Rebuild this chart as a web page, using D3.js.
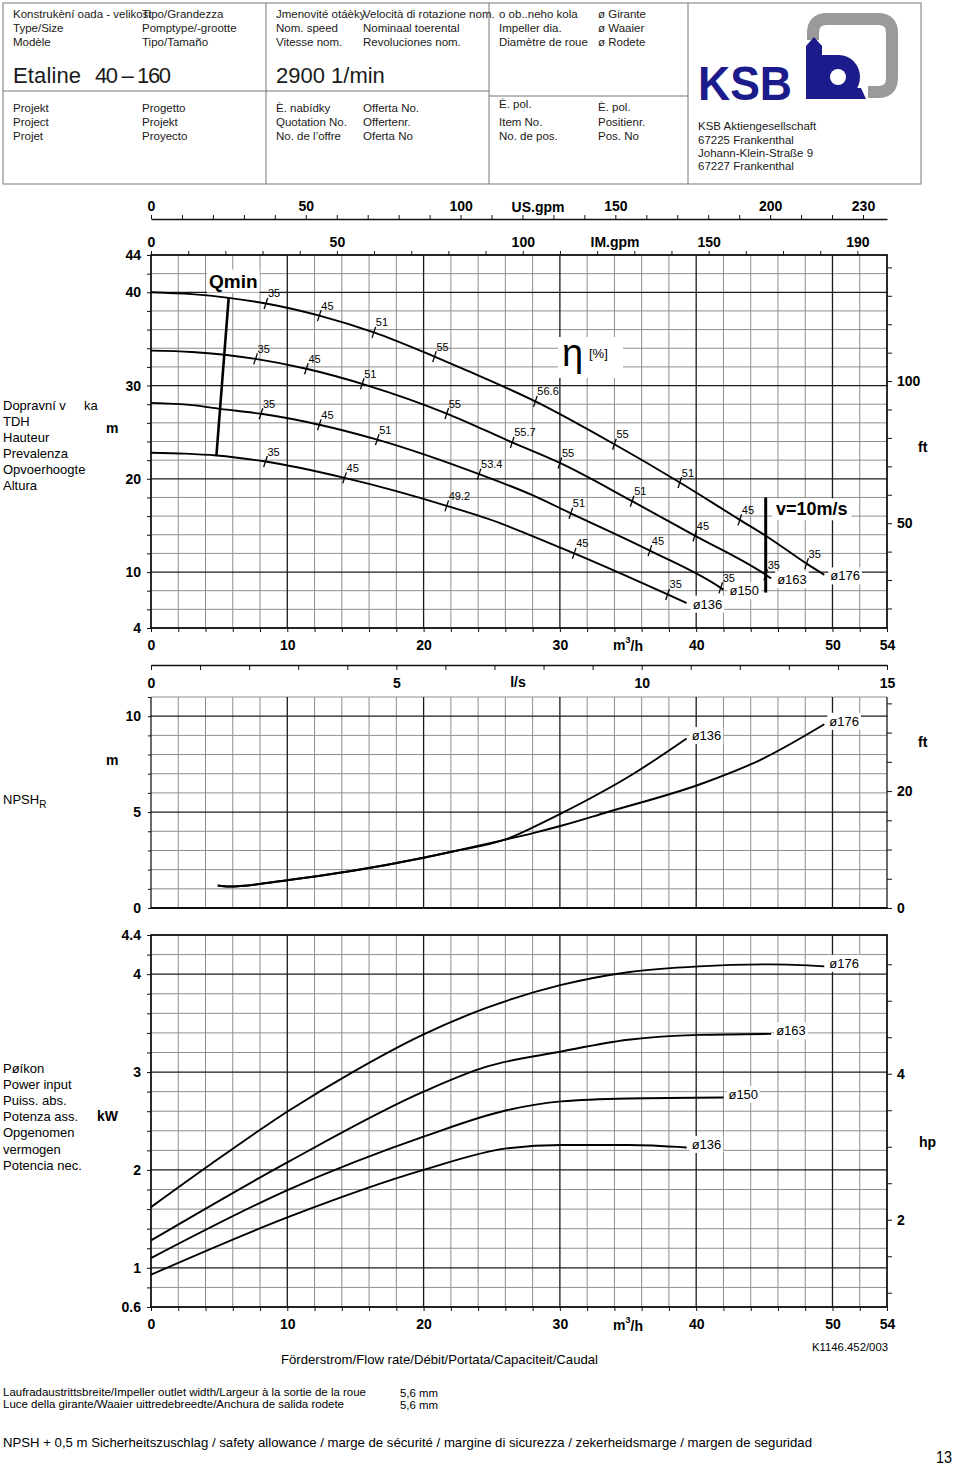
<!DOCTYPE html>
<html>
<head>
<meta charset="utf-8">
<script src="https://cdn.jsdelivr.net/npm/d3@7"></script>
<style>
  body { margin: 0; background: #fff; }
  text { font-family: "Liberation Sans", Arial, Helvetica, sans-serif; }
</style>
</head>
<body>
<svg id="chart"></svg>
<script>
// ---- values, flow Q in m3/h ----
const diameters = ["ø176", "ø163", "ø150", "ø136"];

// head H [m] over Q
const head176 = [[0, 40], [3, 39.8], [5.7, 39.4], [8.43, 38.8], [12.35, 37.5], [16.35, 35.7], [20.8, 33.1], [23.2, 31.6], [28.2, 28.3], [34, 23.7], [38.8, 19.6], [43.2, 15.6], [45.1, 13.9], [48.1, 10.9], [49.4, 9.7]];
const head163 = [[0, 33.75], [3, 33.6], [5.4, 33.3], [7.67, 32.86], [11.4, 31.8], [15.9, 30.0], [21.7, 27.0], [26.5, 23.9], [30.0, 21.7], [35.3, 17.6], [39.9, 13.9], [45.1, 9.7], [45.5, 9.3]];
const head150 = [[0, 28.14], [3, 27.9], [5.07, 27.5], [8.07, 26.97], [12.35, 25.8], [16.6, 24.2], [24.07, 20.5], [27.9, 18.3], [30.8, 16.3], [36.6, 12.3], [41.8, 8.3], [42.0, 8.1]];
const head136 = [[0, 22.8], [2.5, 22.7], [4.8, 22.5], [8.4, 21.85], [14.2, 20.1], [21.7, 17.1], [25.7, 15.2], [27.9, 13.9], [31.05, 12.0], [37.9, 7.6], [39.3, 6.67]];

// efficiency marks [Q, H, label]
const eta176 = [[8.43, 38.8, "35"], [12.35, 37.5, "45"], [16.35, 35.7, "51"], [20.8, 33.1, "55"], [28.2, 28.3, "56.6"], [34, 23.7, "55"], [38.8, 19.6, "51"], [43.2, 15.6, "45"], [48.1, 10.9, "35"]];
const eta163 = [[7.67, 32.86, "35"], [11.4, 31.8, "45"], [15.5, 30.2, "51"], [21.7, 27.0, "55"], [26.5, 23.9, "55.7"], [30.0, 21.7, "55"], [35.3, 17.6, "51"], [39.9, 13.9, "45"], [45.1, 9.7, "35"]];
const eta150 = [[8.07, 26.97, "35"], [12.35, 25.8, "45"], [16.6, 24.2, "51"], [24.07, 20.5, "53.4"], [30.8, 16.3, "51"], [36.6, 12.3, "45"], [41.8, 8.3, "35"]];
const eta136 = [[8.4, 21.85, "35"], [14.2, 20.1, "45"], [21.7, 17.1, "49.2"], [31.05, 12.0, "45"], [37.9, 7.6, "35"]];

const qminLine = [[5.7, 39.4], [4.8, 22.5]];
const v10Line = [[45.1, 18.0], [45.1, 7.8]];

// NPSHR [m] over Q
const npsh176 = [[4.9, 1.17], [5.7, 1.12], [10.1, 1.46], [14.8, 1.94], [20, 2.62], [22.06, 2.93], [26.1, 3.58], [28.1, 3.92], [30.1, 4.29], [33.4, 4.98], [40.6, 6.53], [44.65, 7.7], [49.4, 9.58]];
const npsh136 = [[4.9, 1.17], [5.7, 1.12], [10.1, 1.46], [14.8, 1.94], [20, 2.62], [22.06, 2.93], [26.1, 3.6], [28.1, 4.23], [30.1, 4.93], [35.4, 7.0], [39.3, 8.84]];

// power input P [kW] over Q
const power176 = [[0, 1.62], [4.3, 2.05], [10.1, 2.605], [14.8, 3.0], [20, 3.385], [24.5, 3.65], [30.1, 3.89], [35, 4.02], [40.2, 4.08], [45.5, 4.1], [49.4, 4.08]];
const power163 = [[0, 1.28], [10.1, 2.085], [20, 2.8], [24.5, 3.05], [30.1, 3.21], [35, 3.33], [40.2, 3.38], [45.5, 3.39]];
const power150 = [[0, 1.1], [10.1, 1.8], [20, 2.34], [26.1, 2.61], [30.1, 2.7], [35, 2.73], [42, 2.74]];
const power136 = [[0, 0.93], [10.1, 1.52], [20, 2.0], [26.1, 2.22], [30.1, 2.255], [35, 2.255], [39.3, 2.23]];

// tick labels
const qLabels = [0, 10, 20, 30, 40, 50, 54];
const usLabels = [0, 50, 100, 150, 200, 230];
const imLabels = [0, 50, 100, 150, 190];
const lsLabels = [0, 5, 10, 15];
const headLabels = [4, 10, 20, 30, 40, 44];
const headFtLabels = [50, 100];
const npshLabels = [0, 5, 10];
const npshFtLabels = [0, 20];
const powerLabels = [0.6, 1, 2, 3, 4, 4.4];
const hpLabels = [2, 4];

// ---- svg ----
const svg = d3.select("#chart").attr("width", 960).attr("height", 1469);
svg.append("rect").attr("width", 960).attr("height", 1469).attr("fill", "#fff");

const x = d3.scaleLinear().domain([0, 54]).range([151, 887]);
const yH = d3.scaleLinear().domain([4, 44]).range([628, 255]);
const yN = d3.scaleLinear().domain([0, 11]).range([908, 697]);
const yP = d3.scaleLinear().domain([0.6, 4.4]).range([1307, 935]);

const qGrid = d3.range(0, 55, 2);
const isMajorQ = d => d % 10 === 0 || d === 54;

function grid(y, rows, majors) {
  const g = svg.append("g");
  const [yb, yt] = y.range();
  const vMinor = qGrid.filter(d => !isMajorQ(d)), vMajor = qGrid.filter(isMajorQ);
  const hMinor = rows.filter(d => !majors.includes(d)), hMajor = rows.filter(d => majors.includes(d));
  g.selectAll(".vmin").data(vMinor).join("line")
    .attr("x1", d => x(d)).attr("x2", d => x(d)).attr("y1", yb).attr("y2", yt)
    .attr("stroke", "#8e8e8e").attr("stroke-width", 1);
  g.selectAll(".hmin").data(hMinor).join("line")
    .attr("x1", x(0)).attr("x2", x(54)).attr("y1", d => y(d)).attr("y2", d => y(d))
    .attr("stroke", "#8e8e8e").attr("stroke-width", 1);
  g.selectAll(".vmaj").data(vMajor).join("line")
    .attr("x1", d => x(d)).attr("x2", d => x(d)).attr("y1", yb).attr("y2", yt)
    .attr("stroke", "#1a1a1a").attr("stroke-width", 1.3);
  g.selectAll(".hmaj").data(hMajor).join("line")
    .attr("x1", x(0) - 0.6).attr("x2", x(54) + 0.6).attr("y1", d => y(d)).attr("y2", d => y(d))
    .attr("stroke", "#1a1a1a").attr("stroke-width", 1.3);
}

function styleAxis(g, keepDomain) {
  g.attr("font-size", 14).attr("font-weight", "bold")
    .attr("font-family", '"Liberation Sans", Arial, sans-serif');
  g.selectAll("line").attr("stroke", "#111");
  if (keepDomain) g.select(".domain").attr("stroke", "#111").attr("stroke-width", 1.3);
  else g.select(".domain").remove();
  g.selectAll("text").attr("fill", "#000");
  return g;
}
const fmt = list => d => list.some(v => Math.abs(v - d) < 1e-6) ? d : "";

function label(txt, px, py, opts = {}) {
  const t = svg.append("text").attr("x", px).attr("y", py)
    .attr("font-size", opts.size || 13)
    .attr("font-weight", opts.bold ? "bold" : "normal")
    .attr("text-anchor", opts.anchor || "start")
    .attr("dy", "0.35em")
    .attr("fill", opts.fill || "#000")
    .text(txt);
  if (opts.family) t.attr("font-family", opts.family);
  return t;
}
function whiteBox(t, pad) {
  const b = t.node().getBBox();
  svg.insert("rect", () => t.node())
    .attr("x", b.x - pad).attr("y", b.y - 1).attr("width", b.width + 2 * pad).attr("height", b.height + 2)
    .attr("fill", "#fff");
}
function m3h(px, py) {
  const t = svg.append("text").attr("x", px).attr("y", py).attr("text-anchor", "middle")
    .attr("font-size", 14).attr("font-weight", "bold").attr("dy", "0.35em");
  t.append("tspan").text("m");
  t.append("tspan").attr("font-size", 9).attr("dy", "-0.75em").text("3");
  t.append("tspan").attr("dy", "0.55em").text("/h");
}

// ---- header ----
const hdr = svg.append("g").attr("font-size", 11.5).attr("fill", "#1a1a1a");
hdr.append("rect").attr("x", 3).attr("y", 3).attr("width", 918).attr("height", 181)
  .attr("fill", "none").attr("stroke", "#777");
[[266, 3, 266, 184], [489, 3, 489, 184], [688, 3, 688, 184], [3, 91, 489, 91], [489, 96, 688, 96]]
  .forEach(l => hdr.append("line").attr("x1", l[0]).attr("y1", l[1]).attr("x2", l[2]).attr("y2", l[3]).attr("stroke", "#777"));
const hdrText = [
  [13, 18, "Konstrukèní oada - velikost"], [13, 32, "Type/Size"], [13, 46, "Modèle"],
  [142, 18, "Tipo/Grandezza"], [142, 32, "Pomptype/-grootte"], [142, 46, "Tipo/Tamaño"],
  [276, 18, "Jmenovité otáèky"], [276, 32, "Nom. speed"], [276, 46, "Vitesse nom."],
  [363, 18, "Velocità di rotazione nom."], [363, 32, "Nominaal toerental"], [363, 46, "Revoluciones nom."],
  [499, 18, "o ob..neho kola"], [499, 32, "Impeller dia."], [499, 46, "Diamètre de roue"],
  [598, 18, "ø Girante"], [598, 32, "ø Waaier"], [598, 46, "ø Rodete"],
  [13, 112, "Projekt"], [13, 126, "Project"], [13, 140, "Projet"],
  [142, 112, "Progetto"], [142, 126, "Projekt"], [142, 140, "Proyecto"],
  [276, 112, "È. nabídky"], [276, 126, "Quotation No."], [276, 140, "No. de l’offre"],
  [363, 112, "Offerta No."], [363, 126, "Offertenr."], [363, 140, "Oferta No"],
  [499, 108, "È. pol."], [499, 126, "Item No."], [499, 140, "No. de pos."],
  [598, 111, "È. pol."], [598, 126, "Positienr."], [598, 140, "Pos. No"],
  [698, 130, "KSB Aktiengesellschaft"], [698, 144, "67225 Frankenthal"],
  [698, 157, "Johann-Klein-Straße 9"], [698, 170, "67227 Frankenthal"]
];
hdrText.forEach(d => hdr.append("text").attr("x", d[0]).attr("y", d[1]).text(d[2]));
hdr.append("text").attr("x", 13).attr("y", 83).attr("font-size", 22).attr("textLength", 68).text("Etaline");
hdr.append("text").attr("x", 95).attr("y", 83).attr("font-size", 22).attr("textLength", 76)
  .attr("lengthAdjust", "spacing").text("40 – 160");
hdr.append("text").attr("x", 276).attr("y", 83).attr("font-size", 22).text("2900 1/min");

// KSB logo
const logo = svg.append("g");
logo.append("path").attr("d", "M813 40 V33 Q813 19 827 19 H878 Q892 19 892 33 V78 Q892 92 878 92 H868")
  .attr("fill", "none").attr("stroke", "#9a9a9a").attr("stroke-width", 12);
logo.append("path").attr("d", "M806 99 V46 L814 37 L822 46 V99 Z").attr("fill", "#1b1b8c");
logo.append("path").attr("d", "M822 55 H839 A21 22 0 0 1 839 99 H822 Z").attr("fill", "#1b1b8c");
logo.append("path").attr("d", "M822 88 H861 L866 99 H822 Z").attr("fill", "#1b1b8c");
logo.append("circle").attr("cx", 838).attr("cy", 77).attr("r", 8).attr("fill", "#fff");
logo.append("text").attr("x", 698).attr("y", 100).attr("font-size", 48).attr("font-weight", "bold")
  .attr("fill", "#1b1b8c").attr("textLength", 94).attr("lengthAdjust", "spacingAndGlyphs").text("KSB");

// ---- head chart ----
grid(yH, d3.range(4, 45, 2), [4, 10, 20, 30, 40, 44]);
svg.append("rect").attr("x", x(0)).attr("y", yH(44)).attr("width", x(54) - x(0)).attr("height", yH(4) - yH(44))
  .attr("fill", "none").attr("stroke", "#111").attr("stroke-width", 1.4);

const usScale = d3.scaleLinear().domain([0, 54 * 4.40287]).range([151, 887]);
const imScale = d3.scaleLinear().domain([0, 54 * 3.66615]).range([151, 887]);
styleAxis(svg.append("g").attr("transform", "translate(0,219)")
  .call(d3.axisTop(usScale).tickValues(d3.range(0, 231, 10)).tickSize(4).tickSizeOuter(0).tickPadding(4).tickFormat(fmt(usLabels))), true);
styleAxis(svg.append("g").attr("transform", "translate(0,255)")
  .call(d3.axisTop(imScale).tickValues(d3.range(0, 191, 10)).tickSize(4).tickSizeOuter(0).tickPadding(4).tickFormat(fmt(imLabels))), false);
label("US.gpm", 538, 207, { size: 14, bold: true, anchor: "middle" });
label("IM.gpm", 615, 242, { size: 14, bold: true, anchor: "middle" });

styleAxis(svg.append("g").attr("transform", "translate(151,0)")
  .call(d3.axisLeft(yH).tickValues(d3.range(4, 45, 2)).tickSize(4).tickPadding(6).tickFormat(fmt(headLabels))), false);
styleAxis(svg.append("g").attr("transform", "translate(0,628)")
  .call(d3.axisBottom(x).tickValues(qGrid).tickSize(4).tickPadding(8).tickFormat(fmt(qLabels))), false);
m3h(628, 645);
const ftH = d3.scaleLinear().domain([4 * 3.28084, 44 * 3.28084]).range([628, 255]);
styleAxis(svg.append("g").attr("transform", "translate(887,0)")
  .call(d3.axisRight(ftH).tickValues(d3.range(20, 141, 10)).tickSize(5).tickPadding(5).tickFormat(fmt(headFtLabels))), false);

label("ft", 918, 447, { size: 14, bold: true });
label("m", 106, 428, { size: 14, bold: true });
["TDH", "Hauteur", "Prevalenza", "Opvoerhoogte", "Altura"].forEach((s, i) => label(s, 3, 421 + i * 16));
label("Dopravní v", 3, 405);
label("ka", 84, 405);

// labels with white backing (drawn before curves)
const qminT = label("Qmin", 209, 281, { size: 19, bold: true });
whiteBox(qminT, 2);
const vT = label("v=10m/s", 776, 509, { size: 18, bold: true });
whiteBox(vT, 4);
const etaG = svg.append("g");
etaG.append("rect").attr("x", 558).attr("y", 337).attr("width", 65).attr("height", 41).attr("fill", "#fff");
etaG.append("text").attr("x", 562).attr("y", 366).attr("font-size", 38)
  .attr("font-family", '"Liberation Serif", "DejaVu Serif", serif').text("η");
etaG.append("text").attr("x", 589).attr("y", 358).attr("font-size", 13)
  .attr("font-family", '"Liberation Serif", "DejaVu Serif", serif').text("[%]");

const lineH = d3.line().x(d => x(d[0])).y(d => yH(d[1])).curve(d3.curveMonotoneX);
const heads = [head176, head163, head150, head136];
const etas = [eta176, eta163, eta150, eta136];
heads.forEach((h, i) => {
  svg.append("path").attr("d", lineH(h)).attr("fill", "none").attr("stroke", "#000").attr("stroke-width", 1.9);
  const end = h[h.length - 1];
  const t = label(diameters[i], x(end[0]) + 6, yH(end[1]) + 1);
  whiteBox(t, 2);
});
etas.forEach(list => {
  list.forEach(d => {
    const px = x(d[0]), py = yH(d[1]);
    svg.append("line").attr("x1", px - 1.8).attr("y1", py + 5.5).attr("x2", px + 1.8).attr("y2", py - 5.5)
      .attr("stroke", "#000").attr("stroke-width", 1.3);
    svg.append("text").attr("x", px + 2).attr("y", py - 6).attr("font-size", 11).text(d[2]);
  });
});
svg.append("path").attr("d", d3.line().x(d => x(d[0])).y(d => yH(d[1]))(qminLine))
  .attr("stroke", "#000").attr("stroke-width", 2.6);
svg.append("path").attr("d", d3.line().x(d => x(d[0])).y(d => yH(d[1]))(v10Line))
  .attr("stroke", "#000").attr("stroke-width", 3);

// ---- NPSH chart ----
const lsScale = d3.scaleLinear().domain([0, 15]).range([151, 887]);
styleAxis(svg.append("g").attr("transform", "translate(0,665)")
  .call(d3.axisBottom(lsScale).tickValues(d3.range(0, 16, 1)).tickSize(5).tickSizeOuter(0).tickPadding(8).tickFormat(fmt(lsLabels))), true);
label("l/s", 518, 682, { size: 14, bold: true, anchor: "middle" });

grid(yN, d3.range(0, 12, 1), [0, 5, 10]);
svg.append("line").attr("x1", x(0)).attr("x2", x(54)).attr("y1", yN(0)).attr("y2", yN(0)).attr("stroke", "#111").attr("stroke-width", 1.8);
styleAxis(svg.append("g").attr("transform", "translate(151,0)")
  .call(d3.axisLeft(yN).tickValues(d3.range(0, 12, 1)).tickSize(3).tickPadding(7).tickFormat(fmt(npshLabels))), false);
const ftN = d3.scaleLinear().domain([0, 11 * 3.28084]).range([908, 697]);
styleAxis(svg.append("g").attr("transform", "translate(887,0)")
  .call(d3.axisRight(ftN).tickValues(d3.range(0, 36, 5)).tickSize(5).tickPadding(5).tickFormat(fmt(npshFtLabels))), false);
label("ft", 918, 742, { size: 14, bold: true });
label("m", 106, 760, { size: 14, bold: true });
const nl = svg.append("text").attr("x", 3).attr("y", 799).attr("dy", "0.35em").attr("font-size", 13);
nl.append("tspan").text("NPSH");
nl.append("tspan").attr("font-size", 10).attr("dy", "0.45em").text("R");

const lineN = d3.line().x(d => x(d[0])).y(d => yN(d[1])).curve(d3.curveMonotoneX);
[[npsh176, 0], [npsh136, 3]].forEach(([n, i]) => {
  const end = n[n.length - 1];
  const t = label(diameters[i], x(end[0]) + 5, yN(end[1]) - 3);
  whiteBox(t, 2);
  svg.append("path").attr("d", lineN(n)).attr("fill", "none").attr("stroke", "#000").attr("stroke-width", 1.9);
});

// ---- power chart ----
const pRows = d3.range(3, 23).map(i => i / 5);
grid(yP, pRows, [0.6, 1, 2, 3, 4, 4.4]);
svg.append("rect").attr("x", x(0)).attr("y", yP(4.4)).attr("width", x(54) - x(0)).attr("height", yP(0.6) - yP(4.4))
  .attr("fill", "none").attr("stroke", "#111").attr("stroke-width", 1.4);
styleAxis(svg.append("g").attr("transform", "translate(151,0)")
  .call(d3.axisLeft(yP).tickValues(pRows).tickSize(4).tickPadding(6).tickFormat(fmt(powerLabels))), false);
styleAxis(svg.append("g").attr("transform", "translate(0,1307)")
  .call(d3.axisBottom(x).tickValues(qGrid).tickSize(4).tickPadding(8).tickFormat(fmt(qLabels))), false);
m3h(628, 1325);
const hpScale = d3.scaleLinear().domain([0.6 / 0.7457, 4.4 / 0.7457]).range([1307, 935]);
styleAxis(svg.append("g").attr("transform", "translate(887,0)")
  .call(d3.axisRight(hpScale).tickValues(d3.range(1, 5.6, 0.5)).tickSize(5).tickPadding(5).tickFormat(fmt(hpLabels))), false);
label("hp", 919, 1142, { size: 14, bold: true });
label("kW", 97, 1116, { size: 14, bold: true });
["Pøíkon", "Power input", "Puiss. abs.", "Potenza ass.", "Opgenomen", "vermogen", "Potencia nec."]
  .forEach((s, i) => label(s, 3, 1068 + i * 16.2));

const lineP = d3.line().x(d => x(d[0])).y(d => yP(d[1])).curve(d3.curveMonotoneX);
[power176, power163, power150, power136].forEach((p, i) => {
  const end = p[p.length - 1];
  const t = label(diameters[i], x(end[0]) + 5, yP(end[1]) - 3);
  whiteBox(t, 2);
  svg.append("path").attr("d", lineP(p)).attr("fill", "none").attr("stroke", "#000").attr("stroke-width", 1.9);
});

// ---- footer ----
const narrow = '"Liberation Sans Narrow", "Liberation Sans", Arial, sans-serif';
function foot(txt, px, py, size, len, anchor) {
  svg.append("text").attr("x", px).attr("y", py).attr("dy", "0.35em").attr("font-size", size)
    .attr("font-family", narrow).attr("text-anchor", anchor || "start")
    .attr("textLength", len).attr("lengthAdjust", "spacingAndGlyphs").text(txt);
}
foot("Förderstrom/Flow rate/Débit/Portata/Capaciteit/Caudal", 281, 1359, 13, 317);
foot("K1146.452/003", 812, 1347, 11, 76);
foot("Laufradaustrittsbreite/Impeller outlet width/Largeur à la sortie de la roue", 3, 1392, 11, 363);
foot("Luce della girante/Waaier uittredebreedte/Anchura de salida rodete", 3, 1404, 11, 341);
foot("5,6 mm", 400, 1393, 11, 38);
foot("5,6 mm", 400, 1405, 11, 38);
foot("NPSH + 0,5 m Sicherheitszuschlag / safety allowance / marge de sécurité / margine di sicurezza / zekerheidsmarge / margen de seguridad", 3, 1442, 13, 809);
foot("13", 936, 1457, 16, 16);
</script>
</body>
</html>
